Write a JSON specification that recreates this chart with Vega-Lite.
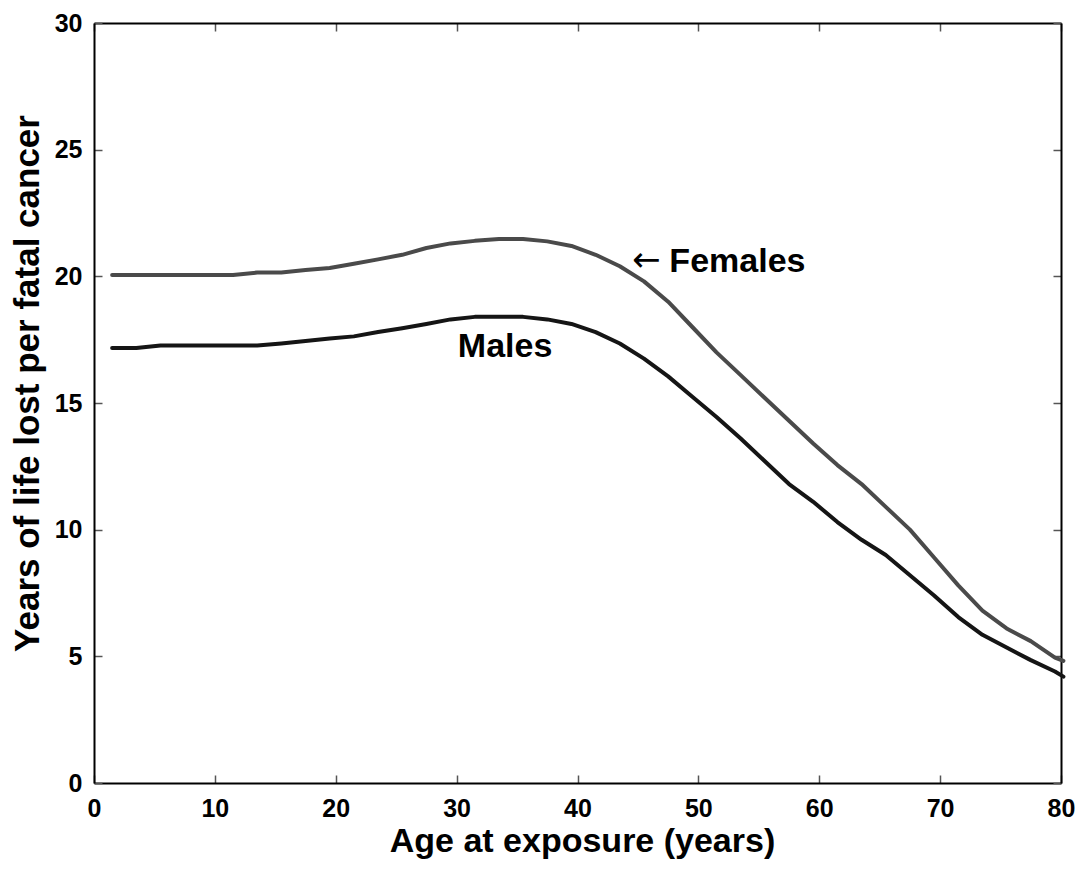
{
  "$schema": "https://vega.github.io/schema/vega-lite/v6.json",
  "width": 967,
  "height": 760,
  "autosize": "none",
  "padding": {"left": 94, "top": 23, "right": 22, "bottom": 90},
  "background": "white",
  "config": {
    "view": {"stroke": null},
    "font": "Liberation Sans",
    "axis": {
      "grid": false,
      "domainColor": "#000000",
      "domainWidth": 2,
      "tickColor": "#555555",
      "tickWidth": 1.5,
      "tickSize": -8,
      "labelFlush": false,
      "labelOverlap": false,
      "labelFont": "Liberation Sans",
      "labelFontWeight": "bold",
      "labelFontSize": 25,
      "labelColor": "#000000",
      "titleFont": "Liberation Sans",
      "titleFontWeight": "bold",
      "titleFontSize": 34,
      "titleColor": "#000000"
    }
  },
  "datasets": {
    "curves": [
      {"sex": "Females", "age": 1.5, "value": 20.05},
      {"sex": "Females", "age": 3.5, "value": 20.05},
      {"sex": "Females", "age": 5.5, "value": 20.05},
      {"sex": "Females", "age": 7.5, "value": 20.05},
      {"sex": "Females", "age": 9.5, "value": 20.05},
      {"sex": "Females", "age": 11.5, "value": 20.05},
      {"sex": "Females", "age": 13.5, "value": 20.15},
      {"sex": "Females", "age": 15.5, "value": 20.15},
      {"sex": "Females", "age": 17.5, "value": 20.25},
      {"sex": "Females", "age": 19.5, "value": 20.33},
      {"sex": "Females", "age": 21.5, "value": 20.5},
      {"sex": "Females", "age": 23.5, "value": 20.67},
      {"sex": "Females", "age": 25.5, "value": 20.85},
      {"sex": "Females", "age": 27.5, "value": 21.12},
      {"sex": "Females", "age": 29.5, "value": 21.3},
      {"sex": "Females", "age": 31.5, "value": 21.4},
      {"sex": "Females", "age": 33.5, "value": 21.47},
      {"sex": "Females", "age": 35.5, "value": 21.47},
      {"sex": "Females", "age": 37.5, "value": 21.38},
      {"sex": "Females", "age": 39.5, "value": 21.2},
      {"sex": "Females", "age": 41.5, "value": 20.85},
      {"sex": "Females", "age": 43.5, "value": 20.4},
      {"sex": "Females", "age": 45.5, "value": 19.8},
      {"sex": "Females", "age": 47.5, "value": 19.0},
      {"sex": "Females", "age": 49.5, "value": 18.0},
      {"sex": "Females", "age": 51.5, "value": 17.0},
      {"sex": "Females", "age": 53.5, "value": 16.1},
      {"sex": "Females", "age": 55.5, "value": 15.2},
      {"sex": "Females", "age": 57.5, "value": 14.3},
      {"sex": "Females", "age": 59.5, "value": 13.4},
      {"sex": "Females", "age": 61.5, "value": 12.55},
      {"sex": "Females", "age": 63.5, "value": 11.8},
      {"sex": "Females", "age": 65.5, "value": 10.9},
      {"sex": "Females", "age": 67.5, "value": 10.0},
      {"sex": "Females", "age": 69.5, "value": 8.9},
      {"sex": "Females", "age": 71.5, "value": 7.8},
      {"sex": "Females", "age": 73.5, "value": 6.8},
      {"sex": "Females", "age": 75.5, "value": 6.1},
      {"sex": "Females", "age": 77.5, "value": 5.6},
      {"sex": "Females", "age": 79.5, "value": 4.95},
      {"sex": "Females", "age": 80.2, "value": 4.82},
      {"sex": "Males", "age": 1.5, "value": 17.17},
      {"sex": "Males", "age": 3.5, "value": 17.17},
      {"sex": "Males", "age": 5.5, "value": 17.27},
      {"sex": "Males", "age": 7.5, "value": 17.27},
      {"sex": "Males", "age": 9.5, "value": 17.27},
      {"sex": "Males", "age": 11.5, "value": 17.27},
      {"sex": "Males", "age": 13.5, "value": 17.27},
      {"sex": "Males", "age": 15.5, "value": 17.35},
      {"sex": "Males", "age": 17.5, "value": 17.45},
      {"sex": "Males", "age": 19.5, "value": 17.55},
      {"sex": "Males", "age": 21.5, "value": 17.63},
      {"sex": "Males", "age": 23.5, "value": 17.8},
      {"sex": "Males", "age": 25.5, "value": 17.95},
      {"sex": "Males", "age": 27.5, "value": 18.12},
      {"sex": "Males", "age": 29.5, "value": 18.3},
      {"sex": "Males", "age": 31.5, "value": 18.4},
      {"sex": "Males", "age": 33.5, "value": 18.4},
      {"sex": "Males", "age": 35.5, "value": 18.4},
      {"sex": "Males", "age": 37.5, "value": 18.3},
      {"sex": "Males", "age": 39.5, "value": 18.12},
      {"sex": "Males", "age": 41.5, "value": 17.8},
      {"sex": "Males", "age": 43.5, "value": 17.35},
      {"sex": "Males", "age": 45.5, "value": 16.75},
      {"sex": "Males", "age": 47.5, "value": 16.05},
      {"sex": "Males", "age": 49.5, "value": 15.25},
      {"sex": "Males", "age": 51.5, "value": 14.45},
      {"sex": "Males", "age": 53.5, "value": 13.6},
      {"sex": "Males", "age": 55.5, "value": 12.7},
      {"sex": "Males", "age": 57.5, "value": 11.8},
      {"sex": "Males", "age": 59.5, "value": 11.1},
      {"sex": "Males", "age": 61.5, "value": 10.3},
      {"sex": "Males", "age": 63.5, "value": 9.6},
      {"sex": "Males", "age": 65.5, "value": 9.0},
      {"sex": "Males", "age": 67.5, "value": 8.2},
      {"sex": "Males", "age": 69.5, "value": 7.4},
      {"sex": "Males", "age": 71.5, "value": 6.55},
      {"sex": "Males", "age": 73.5, "value": 5.85},
      {"sex": "Males", "age": 75.5, "value": 5.35},
      {"sex": "Males", "age": 77.5, "value": 4.85},
      {"sex": "Males", "age": 79.5, "value": 4.4},
      {"sex": "Males", "age": 80.2, "value": 4.2}
    ],
    "labels": [
      {"label": "Females", "age": 47.6, "value": 20.55},
      {"label": "Males", "age": 30.1, "value": 17.2}
    ],
    "arrows": [
      {"label": "←", "age": 44.5, "value": 20.6}
    ]
  },
  "resolve": {"axis": {"x": "independent", "y": "independent"}},
  "layer": [
    {
      "data": {"name": "curves"},
      "mark": {"type": "line", "strokeWidth": 4, "strokeCap": "round", "strokeJoin": "round"},
      "encoding": {
        "x": {"field": "age", "type": "quantitative", "scale": {"domain": [0, 80], "nice": false, "zero": false},
              "axis": {"orient": "bottom", "title": "Age at exposure (years)", "values": [0,10,20,30,40,50,60,70,80], "labelPadding": 21, "titlePadding": 3, "titleX": 488}},
        "y": {"field": "value", "type": "quantitative", "scale": {"domain": [0, 30], "nice": false},
              "axis": {"orient": "left", "title": "Years of life lost per fatal cancer", "values": [0,5,10,15,20,25,30], "labelPadding": 20, "titlePadding": 9, "titleFontSize": 35, "titleY": 360}},
        "color": {"field": "sex", "type": "nominal", "scale": {"domain": ["Females", "Males"], "range": ["#4a4a4a", "#151515"]}, "legend": null},
        "detail": {"field": "sex"}
      }
    },
    {
      "data": {"name": "curves"},
      "mark": {"type": "line", "opacity": 0},
      "encoding": {
        "x": {"field": "age", "type": "quantitative", "scale": {"domain": [0, 80], "nice": false, "zero": false},
              "axis": {"orient": "top", "title": null, "labels": false, "values": [0,10,20,30,40,50,60,70,80]}},
        "y": {"field": "value", "type": "quantitative", "scale": {"domain": [0, 30], "nice": false},
              "axis": {"orient": "right", "title": null, "labels": false, "values": [0,5,10,15,20,25,30]}},
        "detail": {"field": "sex"}
      }
    },
    {
      "data": {"name": "labels"},
      "mark": {"type": "text", "align": "left", "baseline": "middle", "fontSize": 34, "fontWeight": "bold", "font": "Liberation Sans", "color": "#000000"},
      "encoding": {
        "x": {"field": "age", "type": "quantitative", "axis": null},
        "y": {"field": "value", "type": "quantitative", "axis": null},
        "text": {"field": "label"}
      }
    },
    {
      "data": {"name": "arrows"},
      "mark": {"type": "text", "align": "left", "baseline": "middle", "fontSize": 34, "fontWeight": "normal", "font": "DejaVu Sans", "color": "#000000"},
      "encoding": {
        "x": {"field": "age", "type": "quantitative", "axis": null},
        "y": {"field": "value", "type": "quantitative", "axis": null},
        "text": {"field": "label"}
      }
    }
  ]
}
